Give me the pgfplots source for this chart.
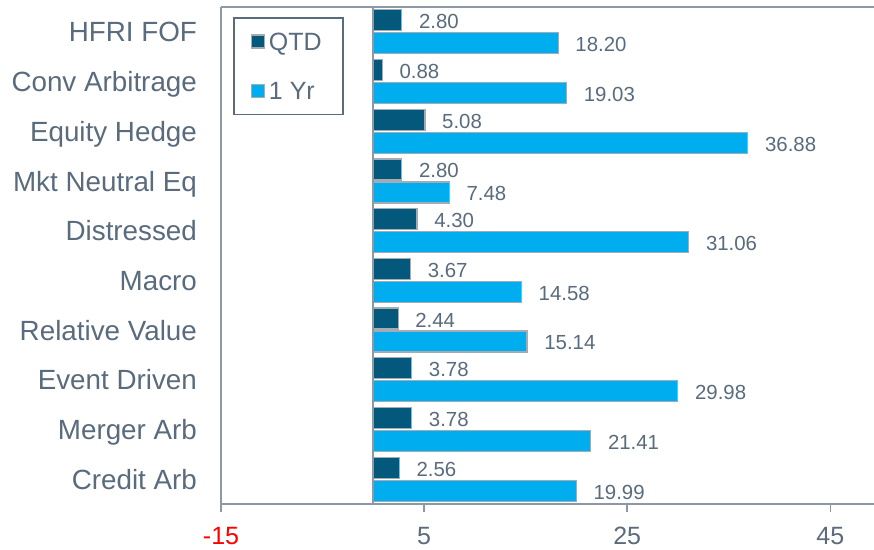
\documentclass[border=0pt]{standalone}
\usepackage{pgfplots}
\pgfplotsset{compat=1.18}
\usepackage{fontspec}
\setmainfont{Liberation Sans}
\definecolor{txt}{HTML}{596B7C}
\definecolor{qtd}{HTML}{03587C}
\definecolor{yr}{HTML}{00AEEF}
\definecolor{brd}{HTML}{A3ACB4}
\definecolor{axc}{HTML}{8C98A3}
\begin{document}
\begin{tikzpicture}
\begin{axis}[
  name=ax,
  width=326.5pt, height=248.5pt, scale only axis,
  xmin=-15, xmax=49.3, ymin=-0.5, ymax=9.5,
  axis x line*=bottom, axis y line*=left,
  axis line style={axc, line width=1pt},
  x axis line style={-}, y axis line style={-},
  xtick={-15,5,25,45},
  xticklabels={\textcolor{red}{-15},5,25,45},
  xtick style={axc, line width=0.8pt},
  tick align=outside, major tick length=4pt,
  ytick={0,...,9},
  yticklabels={Credit Arb,Merger Arb,Event Driven,Relative Value,Macro,Distressed,Mkt Neutral Eq,Equity Hedge,Conv Arbitrage,HFRI FOF},
  ytick style={draw=none},
  xticklabel style={font=\fontsize{12.5}{14}\selectfont, text=txt, yshift=-4pt},
  yticklabel style={font=\fontsize{13.9}{16}\selectfont, text=txt, xshift=-4.5pt, yshift=-2.5pt, text height=0.72em, text depth=0.21em},
  xbar, bar width=10.5pt,
  nodes near coords,
  point meta=x,
  nodes near coords style={font=\fontsize{10.2}{12}\selectfont, text=txt, anchor=west, xshift=5pt, yshift=-0.7pt,
     /pgf/number format/.cd, fixed, fixed zerofill, precision=2, assume math mode=true},
  legend style={at={(rel axis cs:0,1)}, xshift=6pt, yshift=-5pt, anchor=north west,
     draw=txt, line width=0.8pt, font=\fontsize{12.5}{14}\selectfont, text=txt,
     row sep=12pt, inner xsep=8.5pt, inner ysep=5.5pt, nodes={inner xsep=2pt, text depth=0pt}},
  legend cell align=left,
  legend image code/.code={\draw[#1, line width=0.6pt] (0pt,-3.25pt) rectangle (6.5pt,3.25pt);},
  clip=false,
]
\addplot[bar shift=5.75pt, fill=qtd, draw=brd, line width=0.6pt] coordinates {
 (2.56,0) (3.78,1) (3.78,2) (2.44,3) (3.67,4) (4.30,5) (2.80,6) (5.08,7) (0.88,8) (2.80,9)};
\addlegendentry{QTD}
\addplot[bar shift=-5.75pt, fill=yr, draw=brd, line width=0.6pt] coordinates {
 (19.99,0) (21.41,1) (29.98,2) (15.14,3) (14.58,4) (31.06,5) (7.48,6) (36.88,7) (19.03,8) (18.20,9)};
\addlegendentry{1 Yr}
\draw[axc, line width=1pt] (axis cs:0,-0.5) -- (axis cs:0,9.5);
\draw[axc, line width=1pt] (rel axis cs:0,1) -- (rel axis cs:1,1);
\end{axis}
\pgfresetboundingbox
\path[use as bounding box] ([xshift=-110.5pt, yshift=-22.5pt]ax.south west) rectangle ([yshift=3.5pt]ax.north east);
\end{tikzpicture}
\end{document}
